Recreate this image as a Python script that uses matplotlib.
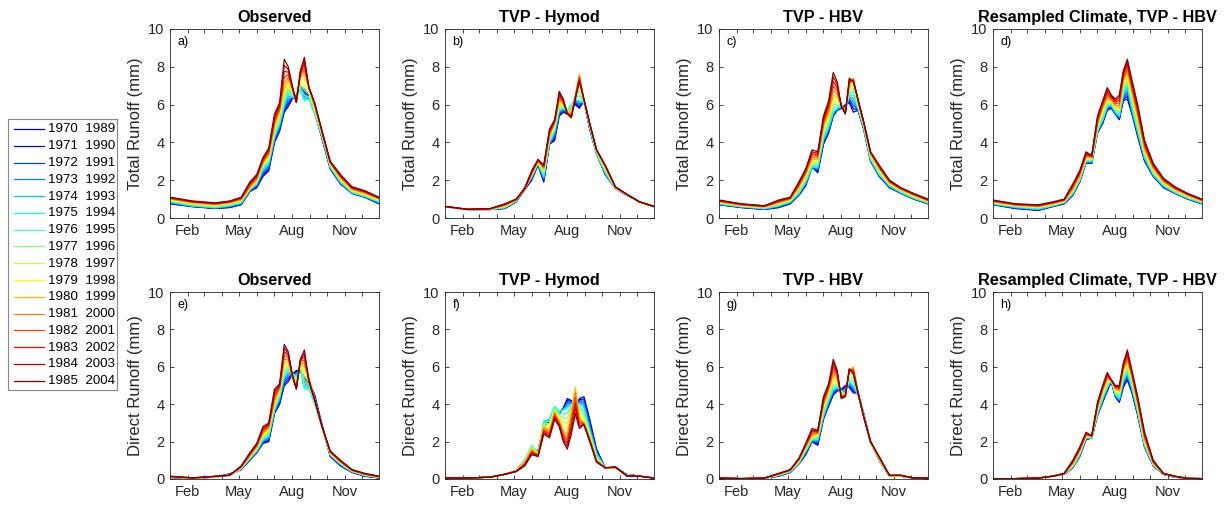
import numpy as np
import matplotlib
matplotlib.use("Agg")
import matplotlib.pyplot as plt

plt.rcParams['font.family'] = ['Liberation Sans', 'DejaVu Sans']

# ---------------- data ----------------
START_YEARS = list(range(1970, 1986))
END_YEARS = list(range(1989, 2005))
DAYS = [1, 40, 80, 105, 125, 140, 152, 163, 173, 183, 192, 200, 207, 214, 221,
        228, 235, 243, 253, 265, 280, 298, 318, 340, 365]
MONTH_STARTS = [1, 32, 60, 91, 121, 152, 182, 213, 244, 274, 305, 335]
MONTH_LABELS = ['', 'Feb', '', '', 'May', '', '', 'Aug', '', '', 'Nov', '']
Y_TICKS = [0, 2, 4, 6, 8, 10]

# runoff in 1/100 mm; one row per day in DAYS, one column per 20-yr window
obs_total = [
    [75, 77, 79, 81, 83, 85, 88, 91, 94, 97, 100, 102, 104, 106, 108, 110],
    [60, 61, 62, 63, 64, 65, 68, 71, 74, 77, 80, 82, 84, 86, 88, 90],
    [50, 51, 52, 53, 54, 55, 58, 61, 64, 67, 70, 72, 74, 76, 78, 80],
    [55, 57, 59, 61, 63, 65, 68, 71, 74, 77, 80, 82, 84, 86, 88, 90],
    [70, 72, 74, 76, 78, 80, 83, 86, 89, 92, 95, 98, 101, 104, 107, 110],
    [140, 142, 144, 146, 148, 150, 152, 154, 156, 158, 160, 166, 172, 178, 184, 190],
    [160, 164, 168, 172, 176, 180, 184, 188, 192, 196, 200, 206, 212, 218, 224, 230],
    [220, 228, 236, 244, 252, 260, 266, 272, 278, 284, 290, 296, 302, 308, 314, 320],
    [250, 258, 266, 274, 282, 290, 298, 306, 314, 322, 330, 338, 346, 354, 362, 370],
    [400, 406, 412, 418, 424, 430, 440, 450, 460, 470, 480, 494, 508, 522, 536, 550],
    [460, 468, 476, 484, 492, 500, 512, 524, 536, 548, 560, 570, 580, 590, 600, 610],
    [560, 568, 576, 584, 592, 600, 616, 632, 648, 664, 680, 712, 744, 776, 808, 840],
    [590, 604, 618, 632, 646, 660, 674, 688, 702, 716, 730, 744, 758, 772, 786, 800],
    [630, 632, 634, 636, 638, 640, 648, 656, 664, 672, 680, 684, 688, 692, 696, 700],
    [650, 646, 642, 638, 634, 630, 628, 626, 624, 622, 620, 618, 616, 614, 612, 610],
    [700, 696, 692, 688, 684, 680, 692, 704, 716, 728, 740, 748, 756, 764, 772, 780],
    [680, 668, 656, 644, 632, 620, 648, 676, 704, 732, 760, 778, 796, 814, 832, 850],
    [650, 646, 642, 638, 634, 630, 642, 654, 666, 678, 690, 690, 690, 690, 690, 690],
    [560, 558, 556, 554, 552, 550, 558, 566, 574, 582, 590, 594, 598, 602, 606, 610],
    [430, 432, 434, 436, 438, 440, 444, 448, 452, 456, 460, 462, 464, 466, 468, 470],
    [260, 262, 264, 266, 268, 270, 274, 278, 282, 286, 290, 292, 294, 296, 298, 300],
    [180, 182, 184, 186, 188, 190, 194, 198, 202, 206, 210, 214, 218, 222, 226, 230],
    [130, 131, 132, 133, 134, 135, 138, 141, 144, 147, 150, 153, 156, 159, 162, 165],
    [110, 111, 112, 113, 114, 115, 118, 121, 124, 127, 130, 133, 136, 139, 142, 145],
    [75, 77, 79, 81, 83, 85, 88, 91, 94, 97, 100, 102, 104, 106, 108, 110],
]

hymod_total = [
    [60, 60, 60, 60, 60, 60, 60, 60, 60, 60, 60, 60, 61, 61, 61, 62],
    [45, 45, 45, 45, 45, 45, 45, 45, 45, 45, 45, 45, 46, 46, 46, 46],
    [45, 45, 45, 46, 46, 46, 46, 47, 47, 48, 48, 48, 49, 49, 50, 50],
    [50, 51, 52, 53, 54, 55, 57, 59, 61, 63, 65, 67, 69, 71, 73, 75],
    [85, 86, 87, 88, 89, 90, 91, 92, 93, 94, 95, 96, 97, 98, 99, 100],
    [150, 152, 154, 156, 158, 160, 158, 156, 154, 152, 150, 152, 154, 156, 158, 160],
    [200, 204, 208, 212, 216, 220, 222, 224, 226, 228, 230, 234, 238, 242, 246, 250],
    [280, 282, 284, 286, 288, 290, 292, 294, 296, 298, 300, 302, 304, 306, 308, 310],
    [190, 196, 202, 208, 214, 220, 228, 236, 244, 252, 260, 264, 268, 272, 276, 280],
    [390, 392, 394, 396, 398, 400, 406, 412, 418, 424, 430, 438, 446, 454, 462, 470],
    [410, 420, 430, 440, 450, 460, 468, 476, 484, 492, 500, 504, 508, 512, 516, 520],
    [540, 546, 552, 558, 564, 570, 580, 590, 600, 610, 620, 630, 640, 650, 660, 670],
    [560, 564, 568, 572, 576, 580, 584, 588, 592, 596, 600, 606, 612, 618, 624, 630],
    [550, 554, 558, 562, 566, 570, 568, 566, 564, 562, 560, 558, 556, 554, 552, 550],
    [580, 584, 588, 592, 596, 600, 590, 580, 570, 560, 550, 546, 542, 538, 534, 530],
    [600, 606, 612, 618, 624, 630, 634, 638, 642, 646, 650, 646, 642, 638, 634, 630],
    [580, 588, 596, 604, 612, 620, 648, 676, 704, 732, 760, 752, 744, 736, 728, 720],
    [620, 618, 616, 614, 612, 610, 612, 614, 616, 618, 620, 622, 624, 626, 628, 630],
    [470, 472, 474, 476, 478, 480, 484, 488, 492, 496, 500, 500, 500, 500, 500, 500],
    [340, 340, 340, 340, 340, 340, 344, 348, 352, 356, 360, 360, 360, 360, 360, 360],
    [230, 232, 234, 236, 238, 240, 246, 252, 258, 264, 270, 272, 274, 276, 278, 280],
    [155, 155, 155, 155, 155, 155, 156, 157, 158, 159, 160, 161, 162, 163, 164, 165],
    [120, 120, 121, 121, 121, 122, 122, 122, 123, 123, 124, 124, 124, 125, 125, 125],
    [85, 85, 85, 85, 85, 85, 85, 85, 85, 85, 85, 85, 85, 85, 85, 85],
    [60, 60, 60, 60, 60, 60, 60, 60, 60, 60, 60, 60, 61, 61, 61, 62],
]

hbv_total = [
    [70, 71, 72, 73, 74, 75, 77, 79, 81, 83, 85, 87, 89, 91, 93, 95],
    [55, 56, 57, 58, 59, 60, 62, 63, 65, 66, 68, 69, 71, 72, 74, 75],
    [45, 46, 47, 48, 49, 50, 52, 53, 55, 56, 58, 59, 61, 62, 64, 65],
    [55, 57, 59, 61, 63, 65, 68, 71, 74, 77, 80, 83, 86, 89, 92, 95],
    [75, 77, 79, 81, 83, 85, 88, 90, 93, 95, 98, 100, 103, 105, 108, 110],
    [120, 122, 124, 126, 128, 130, 136, 142, 148, 154, 160, 166, 172, 178, 184, 190],
    [170, 174, 178, 182, 186, 190, 198, 206, 214, 222, 230, 236, 242, 248, 254, 260],
    [270, 270, 270, 270, 270, 270, 278, 286, 294, 302, 310, 320, 330, 340, 350, 360],
    [240, 246, 252, 258, 264, 270, 278, 286, 294, 302, 310, 318, 326, 334, 342, 350],
    [390, 396, 402, 408, 414, 420, 432, 444, 456, 468, 480, 492, 504, 516, 528, 540],
    [450, 456, 462, 468, 474, 480, 494, 508, 522, 536, 550, 564, 578, 592, 606, 620],
    [540, 544, 548, 552, 556, 560, 578, 596, 614, 632, 650, 674, 698, 722, 746, 770],
    [570, 572, 574, 576, 578, 580, 592, 604, 616, 628, 640, 656, 672, 688, 704, 720],
    [580, 582, 584, 586, 588, 590, 592, 594, 596, 598, 600, 598, 596, 594, 592, 590],
    [600, 594, 588, 582, 576, 570, 568, 566, 564, 562, 560, 558, 556, 554, 552, 550],
    [610, 618, 626, 634, 642, 650, 660, 670, 680, 690, 700, 708, 716, 724, 732, 740],
    [560, 578, 596, 614, 632, 650, 668, 686, 704, 722, 740, 736, 732, 728, 724, 720],
    [570, 572, 574, 576, 578, 580, 588, 596, 604, 612, 620, 622, 624, 626, 628, 630],
    [470, 472, 474, 476, 478, 480, 484, 488, 492, 496, 500, 502, 504, 506, 508, 510],
    [300, 302, 304, 306, 308, 310, 316, 322, 328, 334, 340, 342, 344, 346, 348, 350],
    [220, 222, 224, 226, 228, 230, 236, 242, 248, 254, 260, 264, 268, 272, 276, 280],
    [160, 162, 164, 166, 168, 170, 173, 176, 179, 182, 185, 188, 191, 194, 197, 200],
    [130, 131, 132, 133, 134, 135, 138, 141, 144, 147, 150, 152, 154, 156, 158, 160],
    [100, 101, 102, 103, 104, 105, 108, 111, 114, 117, 120, 122, 124, 126, 128, 130],
    [75, 76, 77, 78, 79, 80, 82, 84, 86, 88, 90, 92, 94, 96, 98, 100],
]

resamp_total = [
    [70, 71, 72, 73, 74, 75, 77, 79, 81, 83, 85, 87, 89, 91, 93, 95],
    [50, 52, 53, 55, 56, 58, 60, 62, 64, 66, 68, 69, 71, 72, 74, 75],
    [40, 42, 43, 45, 46, 48, 50, 53, 55, 58, 60, 62, 64, 66, 68, 70],
    [60, 61, 62, 63, 64, 65, 67, 69, 71, 73, 75, 77, 79, 81, 83, 85],
    [75, 76, 78, 79, 81, 82, 84, 85, 87, 88, 90, 92, 94, 96, 98, 100],
    [120, 122, 124, 126, 128, 130, 134, 138, 142, 146, 150, 156, 162, 168, 174, 180],
    [190, 192, 194, 196, 198, 200, 204, 208, 212, 216, 220, 226, 232, 238, 244, 250],
    [290, 292, 294, 296, 298, 300, 304, 308, 312, 316, 320, 326, 332, 338, 344, 350],
    [290, 292, 294, 296, 298, 300, 304, 308, 312, 316, 320, 322, 324, 326, 328, 330],
    [450, 452, 454, 456, 458, 460, 466, 472, 478, 484, 490, 500, 510, 520, 530, 540],
    [500, 504, 508, 512, 516, 520, 532, 544, 556, 568, 580, 588, 596, 604, 612, 620],
    [570, 574, 578, 582, 586, 590, 598, 606, 614, 622, 630, 642, 654, 666, 678, 690],
    [580, 584, 588, 592, 596, 600, 604, 608, 612, 616, 620, 626, 632, 638, 644, 650],
    [550, 552, 554, 556, 558, 560, 566, 572, 578, 584, 590, 598, 606, 614, 622, 630],
    [520, 524, 528, 532, 536, 540, 548, 556, 564, 572, 580, 594, 608, 622, 636, 650],
    [620, 628, 636, 644, 652, 660, 672, 684, 696, 708, 720, 732, 744, 756, 768, 780],
    [630, 644, 658, 672, 686, 700, 714, 728, 742, 756, 770, 784, 798, 812, 826, 840],
    [550, 556, 562, 568, 574, 580, 596, 612, 628, 644, 660, 674, 688, 702, 716, 730],
    [430, 436, 442, 448, 454, 460, 474, 488, 502, 516, 530, 544, 558, 572, 586, 600],
    [300, 304, 308, 312, 316, 320, 328, 336, 344, 352, 360, 370, 380, 390, 400, 410],
    [220, 222, 224, 226, 228, 230, 236, 242, 248, 254, 260, 266, 272, 278, 284, 290],
    [160, 162, 164, 166, 168, 170, 174, 178, 182, 186, 190, 194, 198, 202, 206, 210],
    [130, 131, 132, 133, 134, 135, 138, 141, 144, 147, 150, 153, 156, 159, 162, 165],
    [100, 101, 102, 103, 104, 105, 108, 111, 114, 117, 120, 122, 124, 126, 128, 130],
    [75, 76, 77, 78, 79, 80, 82, 84, 86, 88, 90, 92, 94, 96, 98, 100],
]

obs_direct = [
    [8, 8, 9, 9, 10, 10, 10, 11, 11, 12, 12, 13, 13, 14, 14, 15],
    [5, 5, 4, 5, 5, 5, 4, 5, 5, 5, 5, 6, 5, 5, 6, 6],
    [10, 10, 10, 10, 10, 10, 11, 11, 11, 12, 12, 13, 13, 14, 14, 15],
    [28, 26, 25, 24, 23, 22, 21, 21, 20, 20, 20, 20, 20, 20, 20, 20],
    [50, 51, 52, 53, 54, 55, 56, 58, 59, 61, 62, 64, 65, 67, 68, 70],
    [100, 102, 104, 106, 108, 110, 112, 114, 116, 118, 120, 124, 128, 132, 136, 140],
    [140, 142, 144, 146, 148, 150, 154, 158, 162, 166, 170, 174, 178, 182, 186, 190],
    [190, 194, 198, 202, 206, 210, 216, 222, 228, 234, 240, 248, 256, 264, 272, 280],
    [200, 206, 212, 218, 224, 230, 238, 246, 254, 262, 270, 276, 282, 288, 294, 300],
    [350, 354, 358, 362, 366, 370, 378, 386, 394, 402, 410, 424, 438, 452, 466, 480],
    [400, 408, 416, 424, 432, 440, 448, 456, 464, 472, 480, 486, 492, 498, 504, 510],
    [500, 510, 520, 530, 540, 550, 564, 578, 592, 606, 620, 640, 660, 680, 700, 720],
    [520, 532, 544, 556, 568, 580, 590, 600, 610, 620, 630, 640, 650, 660, 670, 680],
    [560, 560, 560, 560, 560, 560, 556, 552, 548, 544, 540, 544, 548, 552, 556, 560],
    [580, 574, 568, 562, 556, 550, 538, 526, 514, 502, 490, 488, 486, 484, 482, 480],
    [580, 582, 584, 586, 588, 590, 596, 602, 608, 614, 620, 624, 628, 632, 636, 640],
    [550, 536, 522, 508, 494, 480, 504, 528, 552, 576, 600, 618, 636, 654, 672, 690],
    [520, 512, 504, 496, 488, 480, 492, 504, 516, 528, 540, 536, 532, 528, 524, 520],
    [450, 440, 430, 420, 410, 400, 406, 412, 418, 424, 430, 428, 426, 424, 422, 420],
    [300, 296, 292, 288, 284, 280, 282, 284, 286, 288, 290, 290, 290, 290, 290, 290],
    [120, 122, 124, 126, 128, 130, 132, 134, 136, 138, 140, 142, 144, 146, 148, 150],
    [70, 72, 74, 76, 78, 80, 82, 84, 86, 88, 90, 92, 94, 96, 98, 100],
    [35, 36, 37, 38, 39, 40, 41, 42, 43, 44, 45, 46, 47, 48, 49, 50],
    [15, 16, 17, 18, 19, 20, 21, 22, 23, 24, 25, 26, 27, 28, 29, 30],
    [5, 6, 6, 7, 7, 8, 8, 9, 9, 10, 10, 11, 12, 13, 14, 15],
]

hymod_direct = [
    [5, 5, 5, 5, 5, 5, 5, 5, 5, 5, 5, 5, 5, 5, 5, 5],
    [5, 5, 5, 5, 5, 5, 5, 5, 5, 5, 5, 5, 5, 5, 5, 5],
    [10, 10, 10, 10, 10, 10, 10, 10, 10, 10, 10, 10, 10, 10, 10, 10],
    [25, 25, 25, 25, 25, 25, 25, 25, 25, 25, 25, 25, 25, 25, 25, 25],
    [45, 45, 45, 44, 44, 44, 44, 43, 43, 42, 42, 42, 41, 41, 40, 40],
    [100, 100, 100, 100, 100, 100, 98, 96, 94, 92, 90, 86, 82, 78, 74, 70],
    [150, 156, 162, 168, 174, 180, 176, 172, 168, 164, 160, 154, 148, 142, 136, 130],
    [150, 148, 146, 144, 142, 140, 138, 136, 134, 132, 130, 128, 126, 124, 122, 120],
    [280, 286, 292, 298, 304, 310, 304, 298, 292, 286, 280, 272, 264, 256, 248, 240],
    [310, 312, 314, 316, 318, 320, 308, 296, 284, 272, 260, 252, 244, 236, 228, 220],
    [350, 358, 366, 374, 382, 390, 384, 378, 372, 366, 360, 352, 344, 336, 328, 320],
    [350, 352, 354, 356, 358, 360, 350, 340, 330, 320, 310, 304, 298, 292, 286, 280],
    [380, 378, 376, 374, 372, 370, 348, 326, 304, 282, 260, 248, 236, 224, 212, 200],
    [430, 420, 410, 400, 390, 380, 352, 324, 296, 268, 240, 224, 208, 192, 176, 160],
    [420, 416, 412, 408, 404, 400, 392, 384, 376, 368, 360, 336, 312, 288, 264, 240],
    [380, 386, 392, 398, 404, 410, 426, 442, 458, 474, 490, 462, 434, 406, 378, 350],
    [430, 424, 418, 412, 406, 400, 386, 372, 358, 344, 330, 318, 306, 294, 282, 270],
    [440, 428, 416, 404, 392, 380, 364, 348, 332, 316, 300, 298, 296, 294, 292, 290],
    [320, 308, 296, 284, 272, 260, 252, 244, 236, 228, 220, 216, 212, 208, 204, 200],
    [160, 154, 148, 142, 136, 130, 124, 118, 112, 106, 100, 98, 96, 94, 92, 90],
    [60, 60, 60, 60, 60, 60, 60, 60, 60, 60, 60, 60, 60, 60, 60, 60],
    [60, 60, 60, 60, 60, 60, 60, 60, 61, 61, 61, 62, 62, 63, 64, 65],
    [25, 24, 24, 23, 23, 22, 21, 20, 19, 19, 18, 17, 17, 16, 16, 15],
    [15, 15, 15, 15, 15, 15, 15, 15, 15, 15, 15, 15, 15, 15, 15, 15],
    [5, 5, 5, 5, 5, 5, 5, 5, 5, 5, 5, 5, 5, 5, 5, 5],
]

hbv_direct = [
    [5, 5, 5, 5, 5, 5, 5, 5, 5, 5, 5, 5, 5, 5, 5, 5],
    [2, 2, 2, 2, 2, 2, 2, 2, 2, 2, 2, 2, 2, 2, 2, 2],
    [5, 5, 5, 5, 5, 5, 5, 5, 5, 5, 5, 5, 5, 5, 5, 5],
    [15, 16, 17, 18, 19, 20, 21, 22, 23, 24, 25, 26, 27, 28, 29, 30],
    [35, 36, 37, 38, 39, 40, 41, 42, 43, 44, 45, 46, 47, 48, 49, 50],
    [80, 81, 82, 83, 84, 85, 88, 91, 94, 97, 100, 102, 104, 106, 108, 110],
    [130, 134, 138, 142, 146, 150, 154, 158, 162, 166, 170, 174, 178, 182, 186, 190],
    [200, 202, 204, 206, 208, 210, 214, 218, 222, 226, 230, 238, 246, 254, 262, 270],
    [180, 186, 192, 198, 204, 210, 216, 222, 228, 234, 240, 244, 248, 252, 256, 260],
    [320, 324, 328, 332, 336, 340, 350, 360, 370, 380, 390, 400, 410, 420, 430, 440],
    [390, 396, 402, 408, 414, 420, 430, 440, 450, 460, 470, 478, 486, 494, 502, 510],
    [450, 456, 462, 468, 474, 480, 494, 508, 522, 536, 550, 568, 586, 604, 622, 640],
    [470, 474, 478, 482, 486, 490, 498, 506, 514, 522, 530, 540, 550, 560, 570, 580],
    [480, 478, 476, 474, 472, 470, 466, 462, 458, 454, 450, 446, 442, 438, 434, 430],
    [500, 492, 484, 476, 468, 460, 458, 456, 454, 452, 450, 448, 446, 444, 442, 440],
    [490, 496, 502, 508, 514, 520, 532, 544, 556, 568, 580, 582, 584, 586, 588, 590],
    [460, 468, 476, 484, 492, 500, 520, 540, 560, 580, 600, 592, 584, 576, 568, 560],
    [460, 458, 456, 454, 452, 450, 454, 458, 462, 466, 470, 468, 466, 464, 462, 460],
    [350, 348, 346, 344, 342, 340, 340, 340, 340, 340, 340, 338, 336, 334, 332, 330],
    [200, 198, 196, 194, 192, 190, 192, 194, 196, 198, 200, 200, 200, 200, 200, 200],
    [100, 100, 100, 100, 100, 100, 102, 104, 106, 108, 110, 112, 114, 116, 118, 120],
    [15, 15, 15, 16, 16, 16, 16, 17, 17, 18, 18, 18, 19, 19, 20, 20],
    [15, 15, 15, 16, 16, 16, 16, 17, 17, 18, 18, 18, 19, 19, 20, 20],
    [5, 5, 5, 5, 5, 5, 5, 5, 5, 5, 5, 5, 5, 5, 5, 5],
    [5, 5, 5, 5, 5, 5, 5, 5, 5, 5, 5, 5, 5, 5, 5, 5],
]

resamp_direct = [
    [2, 2, 2, 2, 2, 2, 2, 2, 2, 2, 2, 2, 2, 2, 2, 2],
    [2, 2, 2, 2, 2, 2, 2, 2, 2, 2, 2, 2, 2, 2, 2, 2],
    [5, 5, 5, 5, 5, 5, 5, 5, 5, 5, 5, 5, 5, 5, 5, 5],
    [15, 15, 15, 15, 15, 15, 15, 15, 15, 15, 15, 15, 15, 15, 15, 15],
    [25, 25, 26, 26, 27, 27, 27, 27, 28, 28, 28, 28, 29, 29, 30, 30],
    [60, 61, 62, 63, 64, 65, 68, 71, 74, 77, 80, 84, 88, 92, 96, 100],
    [120, 122, 124, 126, 128, 130, 134, 138, 142, 146, 150, 154, 158, 162, 166, 170],
    [210, 212, 214, 216, 218, 220, 222, 224, 226, 228, 230, 234, 238, 242, 246, 250],
    [220, 220, 220, 220, 220, 220, 222, 224, 226, 228, 230, 230, 230, 230, 230, 230],
    [340, 342, 344, 346, 348, 350, 356, 362, 368, 374, 380, 386, 392, 398, 404, 410],
    [410, 414, 418, 422, 426, 430, 438, 446, 454, 462, 470, 476, 482, 488, 494, 500],
    [470, 474, 478, 482, 486, 490, 498, 506, 514, 522, 530, 538, 546, 554, 562, 570],
    [520, 522, 524, 526, 528, 530, 530, 530, 530, 530, 530, 530, 530, 530, 530, 530],
    [440, 442, 444, 446, 448, 450, 456, 462, 468, 474, 480, 484, 488, 492, 496, 500],
    [410, 414, 418, 422, 426, 430, 438, 446, 454, 462, 470, 476, 482, 488, 494, 500],
    [490, 498, 506, 514, 522, 530, 540, 550, 560, 570, 580, 588, 596, 604, 612, 620],
    [530, 538, 546, 554, 562, 570, 582, 594, 606, 618, 630, 642, 654, 666, 678, 690],
    [460, 466, 472, 478, 484, 490, 500, 510, 520, 530, 540, 548, 556, 564, 572, 580],
    [340, 344, 348, 352, 356, 360, 368, 376, 384, 392, 400, 408, 416, 424, 432, 440],
    [170, 172, 174, 176, 178, 180, 186, 192, 198, 204, 210, 218, 226, 234, 242, 250],
    [70, 71, 72, 73, 74, 75, 77, 79, 81, 83, 85, 88, 91, 94, 97, 100],
    [25, 25, 26, 26, 27, 27, 27, 27, 28, 28, 28, 28, 29, 29, 30, 30],
    [10, 10, 11, 11, 12, 12, 12, 12, 13, 13, 13, 13, 14, 14, 15, 15],
    [3, 3, 3, 3, 3, 3, 3, 3, 3, 3, 3, 3, 3, 3, 3, 3],
    [2, 2, 2, 2, 2, 2, 2, 2, 2, 2, 2, 2, 2, 2, 2, 2],
]

TITLES = ['Observed', 'TVP - Hymod', 'TVP - HBV', 'Resampled Climate, TVP - HBV']
PANEL_LETTERS = ['a)', 'b)', 'c)', 'd)', 'e)', 'f)', 'g)', 'h)']
YLABELS = ['Total Runoff (mm)', 'Direct Runoff (mm)']
PANELS = [obs_total, hymod_total, hbv_total, resamp_total,
          obs_direct, hymod_direct, hbv_direct, resamp_direct]

# MATLAB jet(16)
COLORS = [(0, 0, .75), (0, 0, 1), (0, .25, 1), (0, .5, 1), (0, .75, 1), (0, 1, 1),
          (.25, 1, .75), (.5, 1, .5), (.75, 1, .25), (1, 1, 0), (1, .75, 0),
          (1, .5, 0), (1, .25, 0), (1, 0, 0), (.75, 0, 0), (.5, 0, 0)]

# ---------------- figure ----------------
W, H = 1229, 509
fig = plt.figure(figsize=(W / 100, H / 100), dpi=100)
AX_COLOR = '#262626'

lefts = [170, 445, 719, 993]
rows = [(29, 218), (292, 479)]
axw = 209

for i, table in enumerate(PANELS):
    r, c = divmod(i, 4)
    top, bot = rows[r]
    ax = fig.add_axes([lefts[c] / W, 1 - bot / H, axw / W, (bot - top) / H])
    arr = np.array(table, dtype=float) / 100.0
    for k in range(len(START_YEARS)):
        ax.plot(DAYS, arr[:, k], color=COLORS[k], lw=0.9)
    ax.set_xlim(1, 365)
    ax.set_ylim(0, 10)
    ax.set_xticks(MONTH_STARTS)
    ax.set_xticklabels(MONTH_LABELS)
    ax.set_yticks(Y_TICKS)
    ax.tick_params(direction='in', length=3, width=0.6, colors=AX_COLOR,
                   labelsize=10.5, top=True, right=True, pad=4)
    for s in ax.spines.values():
        s.set_color(AX_COLOR)
        s.set_linewidth(0.6)
    ax.set_title(TITLES[c], fontsize=11.7, fontweight='bold', pad=5)
    ax.set_ylabel(YLABELS[r], fontsize=12, color=AX_COLOR, labelpad=4)
    ax.text(0.035, 0.93, PANEL_LETTERS[i], transform=ax.transAxes,
            fontsize=9, color='black', va='center', ha='left')

# legend drawn manually
lx0, ly0, lx1, ly1 = 8, 119, 117, 390
lax = fig.add_axes([lx0 / W, 1 - ly1 / H, (lx1 - lx0) / W, (ly1 - ly0) / H])
lax.set_xlim(0, lx1 - lx0)
lax.set_ylim(ly1 - ly0, 0)
lax.set_xticks([])
lax.set_yticks([])
for s in lax.spines.values():
    s.set_color('#888888')
    s.set_linewidth(0.8)
for k, (y0, y1) in enumerate(zip(START_YEARS, END_YEARS)):
    yy = 10 + k * 16.78
    lax.plot([6, 36], [yy, yy], color=COLORS[k], lw=0.9)
    lax.text(40, yy + 0.5, f'{y0}  {y1}', fontsize=9.6, va='center', ha='left',
             color='black')

fig.savefig('out.png', dpi=100)
